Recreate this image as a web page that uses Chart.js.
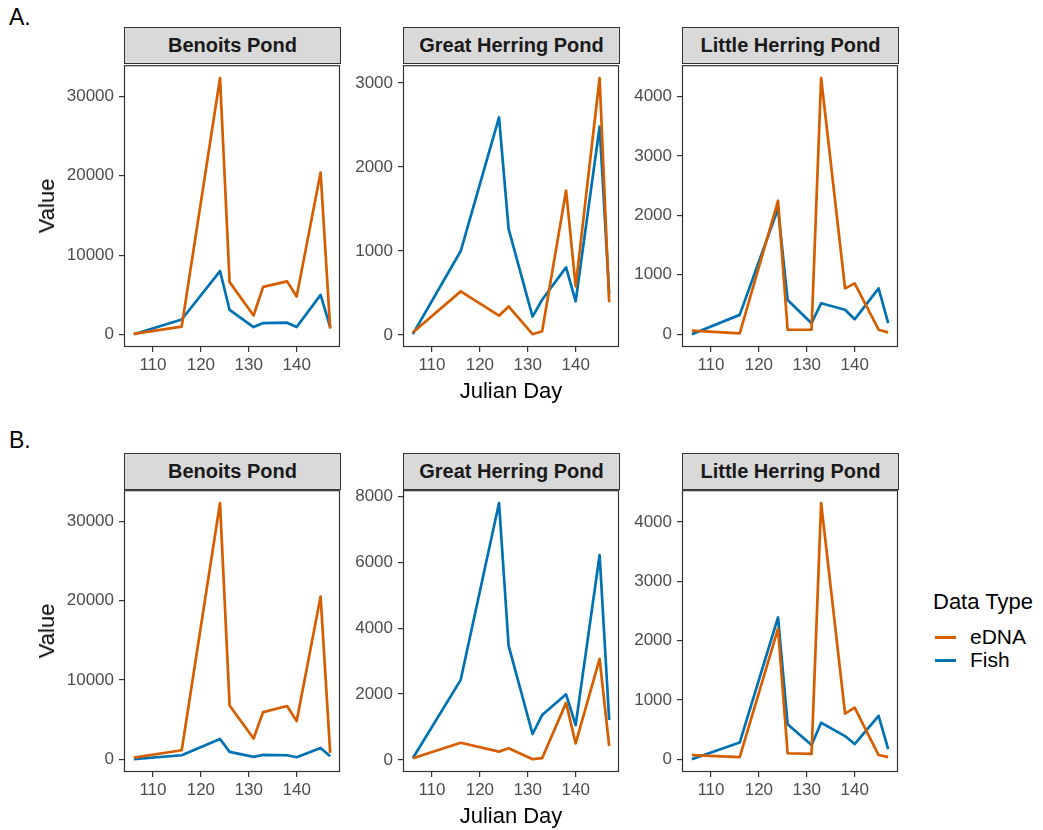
<!DOCTYPE html>
<html>
<head>
<meta charset="utf-8">
<script src="https://cdn.jsdelivr.net/npm/chart.js@4"></script>
<style>
  body { margin: 0; background: #fff; font-family: "Liberation Sans", Arial, sans-serif; }
  #wrap { position: relative; width: 1043px; height: 830px; overflow: hidden; }
  .lbl { position: absolute; white-space: nowrap; color: #000; }
  .strip {
    position: absolute; box-sizing: border-box; height: 37px;
    background: #d9d9d9; border: 1px solid #333;
    font-weight: bold; font-size: 20px; color: #1a1a1a;
    display: flex; align-items: center; justify-content: center;
  }
  canvas { position: absolute; }
  .key { position: absolute; width: 21px; height: 3px; }
</style>
</head>
<body>
<div id="wrap"></div>
<script>
// Julian days sampled
const days = [106, 116, 124, 126, 131, 133, 138, 140, 145, 147];
const xTicks = [110, 120, 130, 140];
const ponds = ["Benoits Pond", "Great Herring Pond", "Little Herring Pond"];

// panel A
const aBenoitsEDNA = [100, 1000, 32300, 6600, 2400, 6000, 6700, 4800, 20400, 750];
const aBenoitsFish = [50, 1900, 8000, 3100, 950, 1450, 1500, 950, 5000, 950];
const aGreatEDNA = [30, 520, 230, 340, 10, 45, 1720, 580, 3060, 390];
const aGreatFish = [10, 1000, 2590, 1265, 220, 420, 805, 400, 2480, 490];
const aLittleEDNA = [60, 15, 2245, 75, 75, 4310, 770, 855, 75, 30];
const aLittleFish = [0, 325, 2115, 575, 185, 520, 410, 250, 770, 185];

// panel B
const bBenoitsEDNA = [200, 1130, 32300, 6780, 2600, 5940, 6700, 4800, 20500, 800];
const bBenoitsFish = [0, 500, 2550, 920, 290, 540, 500, 250, 1420, 380];
const bGreatEDNA = [50, 520, 250, 350, 20, 50, 1730, 500, 3070, 420];
const bGreatFish = [50, 2430, 7800, 3470, 785, 1360, 1990, 1055, 6220, 1210];
const bLittleEDNA = [70, 35, 2200, 100, 90, 4320, 770, 870, 70, 35];
const bLittleFish = [0, 280, 2390, 590, 240, 615, 390, 255, 730, 170];

const yTicksBenoits = [0, 10000, 20000, 30000];
const yTicksGreatA = [0, 1000, 2000, 3000];
const yTicksGreatB = [0, 2000, 4000, 6000, 8000];
const yTicksLittle = [0, 1000, 2000, 3000, 4000];

const COL_EDNA = "#D55E00";
const COL_FISH = "#0072B2";
const FONT = "'Liberation Sans', Arial, sans-serif";

const wrap = document.getElementById("wrap");
const colLeft = [124, 403, 682];
const plotW = 216, plotH = 283;
const rows = [
    { stripTop: 27, plotTop: 64, tag: "A.", tagTop: 4,
      series: [[aBenoitsEDNA, aBenoitsFish, yTicksBenoits], [aGreatEDNA, aGreatFish, yTicksGreatA], [aLittleEDNA, aLittleFish, yTicksLittle]] },
    { stripTop: 453, plotTop: 489, tag: "B.", tagTop: 427,
      series: [[bBenoitsEDNA, bBenoitsFish, yTicksBenoits], [bGreatEDNA, bGreatFish, yTicksGreatB], [bLittleEDNA, bLittleFish, yTicksLittle]] }
];

function label(text, css) {
    const d = document.createElement("div");
    d.className = "lbl";
    d.textContent = text;
    Object.assign(d.style, css);
    wrap.appendChild(d);
    return d;
}

const panelBorder = {
    id: "panelBorder",
    afterDraw(chart) {
        const a = chart.chartArea, ctx = chart.ctx;
        ctx.save();
        ctx.strokeStyle = "#333";
        ctx.lineWidth = 1.2;
        ctx.strokeRect(a.left + 0.5, a.top + 0.5, a.right - a.left - 1, a.bottom - a.top - 1);
        ctx.restore();
    }
};

function ggRange(arrs) {
    const all = [].concat(...arrs);
    const lo = Math.min(...all), hi = Math.max(...all);
    const pad = (hi - lo) * 0.05;
    return [lo - pad, hi + pad];
}

function makePanel(left, top, edna, fish, yTicks) {
    const cv = document.createElement("canvas");
    cv.width = 80 + plotW + 2;
    cv.height = 14 + plotH + 40;
    cv.style.left = (left - 80) + "px";
    cv.style.top = (top - 14) + "px";
    wrap.appendChild(cv);

    const [ymin, ymax] = ggRange([edna, fish]);
    const [xmin, xmax] = ggRange([days]);
    const tickStyle = { display: true, drawOnChartArea: false, drawTicks: true, tickLength: 5, color: "#333", lineWidth: 1.2 };
    const lineStyle = { borderWidth: 2.7, pointRadius: 0, tension: 0, borderJoinStyle: "round", borderCapStyle: "butt" };

    new Chart(cv, {
        type: "line",
        data: {
            labels: days,
            datasets: [
                Object.assign({ label: "eDNA", data: days.map((d, i) => ({ x: d, y: edna[i] })), borderColor: COL_EDNA }, lineStyle),
                Object.assign({ label: "Fish", data: days.map((d, i) => ({ x: d, y: fish[i] })), borderColor: COL_FISH }, lineStyle)
            ]
        },
        options: {
            responsive: false,
            animation: false,
            events: [],
            layout: { padding: { top: 14, right: 2, left: 0, bottom: 0 } },
            plugins: { legend: { display: false }, tooltip: { enabled: false } },
            scales: {
                x: {
                    type: "linear", min: xmin, max: xmax,
                    afterBuildTicks: s => { s.ticks = xTicks.map(v => ({ value: v })); },
                    afterFit: s => { s.height = 40; },
                    grid: tickStyle,
                    border: { display: false },
                    ticks: { color: "#4d4d4d", font: { family: FONT, size: 17 }, padding: 3, maxRotation: 0 }
                },
                y: {
                    type: "linear", min: ymin, max: ymax,
                    afterBuildTicks: s => { s.ticks = yTicks.map(v => ({ value: v })); },
                    afterFit: s => { s.width = 80; },
                    grid: tickStyle,
                    border: { display: false },
                    ticks: { color: "#4d4d4d", font: { family: FONT, size: 17 }, padding: 5, callback: v => String(v) }
                }
            }
        },
        plugins: [panelBorder]
    });
}

rows.forEach(r => {
    label(r.tag, { left: "9px", top: r.tagTop + "px", fontSize: "23px" });
    ponds.forEach((p, c) => {
        const s = document.createElement("div");
        s.className = "strip";
        s.textContent = p;
        Object.assign(s.style, { left: colLeft[c] + "px", top: r.stripTop + "px", width: (plotW + 1) + "px" });
        wrap.appendChild(s);
        makePanel(colLeft[c], r.plotTop, r.series[c][0], r.series[c][1], r.series[c][2]);
    });
    label("Value", { fontSize: "22px", left: "47px", top: (r.plotTop + plotH / 2) + "px",
        transform: "translate(-50%, -50%) rotate(-90deg)" });
    label("Julian Day", { fontSize: "22px", left: (colLeft[1] + plotW / 2) + "px", top: (r.plotTop + plotH + 44) + "px",
        transform: "translate(-50%, -50%)" });
});

// legend
label("Data Type", { left: "933px", top: "589px", fontSize: "22px" });
[["eDNA", COL_EDNA, 637], ["Fish", COL_FISH, 660]].forEach(([t, col, y]) => {
    const k = document.createElement("div");
    k.className = "key";
    Object.assign(k.style, { left: "935px", top: (y - 1) + "px", background: col });
    wrap.appendChild(k);
    label(t, { left: "970px", top: (y - 12) + "px", fontSize: "21px" });
});
</script>
</body>
</html>
